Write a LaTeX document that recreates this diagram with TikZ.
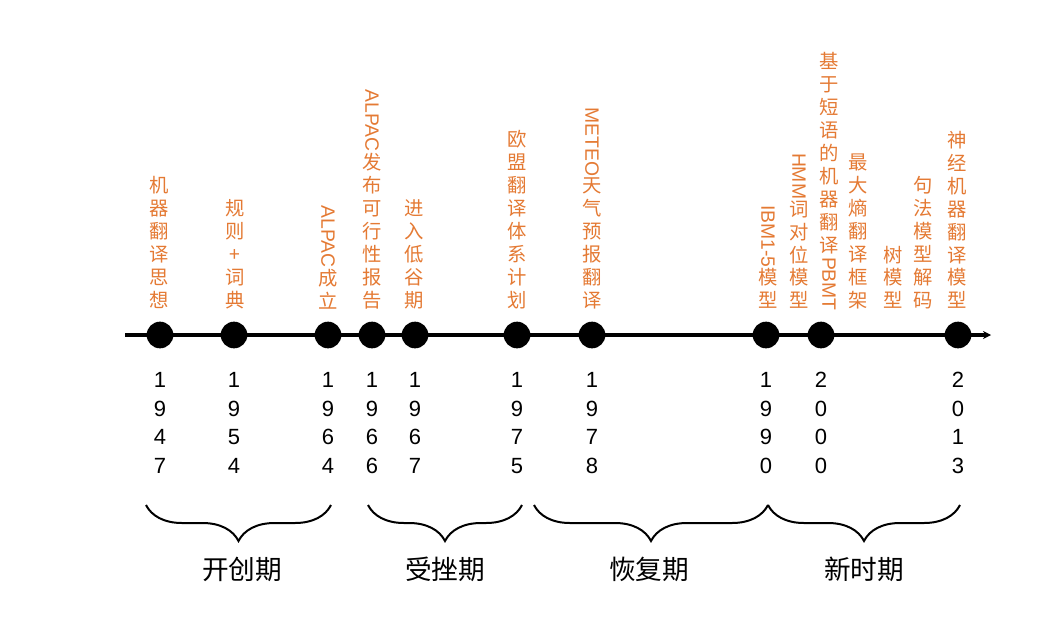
\documentclass[tikz,border=0pt]{standalone}
\usepackage{fontspec}
\setmainfont{Liberation Sans}
\newfontfamily\cjk{Noto Sans CJK SC}
\usepackage{tikz}
\usetikzlibrary{arrows.meta}
\usetikzlibrary{decorations.pathreplacing}
\definecolor{evorange}{RGB}{228,122,52}
\newcommand{\lat}[1]{\raisebox{0.95em}{\rotatebox{-90}{\rmfamily #1}}}

\begin{document}
\begin{tikzpicture}[x=0.75pt, y=-0.75pt, >={Stealth[length=6pt,width=6pt]},
  dot/.style={circle, fill=black, inner sep=0pt, minimum size=20pt},
  ev/.style={anchor=south, inner sep=0pt, align=center, text=evorange, font=\cjk\fontsize{14.5}{17.2}\selectfont},
  yr/.style={inner sep=0pt, align=center, font=\fontsize{16.5}{21.4}\selectfont},
  era/.style={inner sep=0pt, font=\cjk\fontsize{20}{24}\selectfont},
  period/.style={decorate, decoration={brace, mirror, amplitude=27pt}, line width=1.5pt},]
\useasboundingbox (0,0) rectangle (1062,632);
\coordinate (s) at (125,335);
\coordinate (e) at (991,335);
  \draw [->, line width=2.3pt] (s)--(e);
\node[dot] (1) at (160,335) {};
\node[dot] (2) at (234,335) {};
\node[dot] (3) at (328,335) {};
\node[dot] (4) at (372,335) {};
\node[dot] (5) at (415,335) {};
\node[dot] (6) at (517,335) {};
\node[dot] (7) at (592,335) {};
\node[dot] (8) at (766,335) {};
\node[dot] (9) at (821,335) {};
\node[dot] (10) at (958,335) {};
% events
\node[ev] (e1) at (159,309) {机\\器\\翻\\译\\思\\想};
\node[ev] (e2) at (235,309) {规\\则\\+\\词\\典};
\node[ev] (e3) at (328,309) {\lat{ALPAC}\\成\\立};
\node[ev] (e4) at (372,309) {\lat{ALPAC}\\发\\布\\可\\行\\性\\报\\告};
\node[ev] (e5) at (414,309) {进\\入\\低\\谷\\期};
\node[ev] (e6) at (517,309) {欧\\盟\\翻\\译\\体\\系\\计\\划};
\node[ev] (e7) at (592,309) {\lat{METEO}\\天\\气\\预\\报\\翻\\译};
\node[ev] (e8) at (768,309) {\lat{IBM1-5}\\模\\型};
\node[ev] (e9) at (799,309) {\lat{HMM}\\词\\对\\位\\模\\型};
\node[ev] (e10) at (829,311) {基\\于\\短\\语\\的\\机\\器\\翻\\译\\\lat{PBMT}};
\node[ev] (e11) at (858,309) {最\\大\\熵\\翻\\译\\框\\架};
\node[ev] (e12) at (893,309) {树\\模\\型};
\node[ev] (e13) at (923,309) {句\\法\\模\\型\\解\\码};
\node[ev] (e14) at (957,309) {神\\经\\机\\器\\翻\\译\\模\\型};
% years
\node[yr] (y1) at (160,423) {1\\9\\4\\7};
\node[yr] (y2) at (234,423) {1\\9\\5\\4};
\node[yr] (y3) at (328,423) {1\\9\\6\\4};
\node[yr] (y4) at (372,423) {1\\9\\6\\6};
\node[yr] (y5) at (415,423) {1\\9\\6\\7};
\node[yr] (y6) at (517,423) {1\\9\\7\\5};
\node[yr] (y7) at (592,423) {1\\9\\7\\8};
\node[yr] (y8) at (766,423) {1\\9\\9\\0};
\node[yr] (y9) at (821,423) {2\\0\\0\\0};
\node[yr] (y10) at (958,423) {2\\0\\1\\3};
% periods
  \draw [period] (146,505)--(331,505);
  \draw [period] (368,505)--(522,505);
  \draw [period] (534,505)--(768,505);
  \draw [period] (768,505)--(960,505);
\node[era] (p1) at (242,569) {开创期};
\node[era] (p2) at (445,569) {受挫期};
\node[era] (p3) at (649,569) {恢复期};
\node[era] (p4) at (864,569) {新时期};
\end{tikzpicture}
\end{document}
